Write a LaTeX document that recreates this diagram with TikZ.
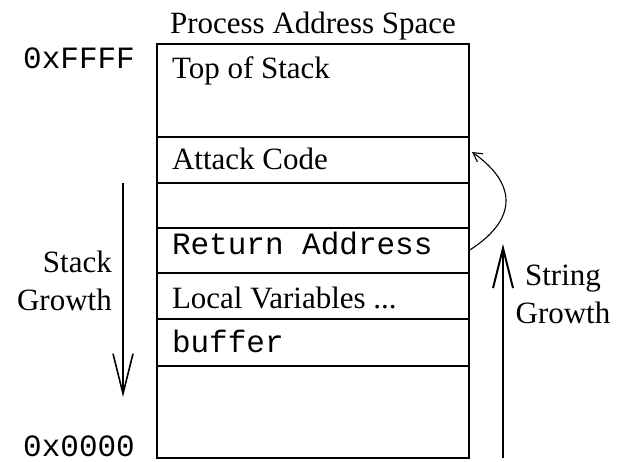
\documentclass[tikz,border=0pt]{standalone}
\usepackage{fontspec}
\setmainfont{Liberation Serif}
\setmonofont{Liberation Mono}
\usetikzlibrary{arrows.meta}
\usetikzlibrary{positioning}
\tikzset{>={Straight Barb[length=40pt,width=20pt]}}
\tikzstyle{cell}=[draw, line width=1.3pt, outer sep=0pt, minimum width=312pt, text width=282pt, inner xsep=15pt, inner ysep=0pt, align=flush left, anchor=north west]

\begin{document}
\begin{tikzpicture}[x=1pt, y=1pt, every node/.style={font=\fontsize{31}{38}\selectfont}]
        \useasboundingbox (0,0) rectangle (621,461);

        % Stack frames
        \node[cell, text height=35pt, text depth=58pt] (top) at (157,417) {Top of Stack};
        \node[cell, below=0pt of top, text height=33pt, text depth=13pt] (attack) {Attack Code};
        \node[cell, below=0pt of attack, text height=45pt, text depth=0pt] (gap) {};
        \node[cell, below=0pt of gap, text height=27pt, text depth=18pt] (ret) {\ttfamily Return Address};
        \node[cell, below=0pt of ret, text height=35pt, text depth=11pt] (local) {Local Variables ...};
        \node[cell, below=0pt of local, text height=33pt, text depth=14pt] (buffer) {\ttfamily buffer};
        \node[cell, below=0pt of buffer, text height=92pt, text depth=0pt] (bottom) {};

        \node[above=4pt of top, inner sep=0pt] (title) {Process Address Space};

        % Addresses
        \node at (23,392) [anchor=base west, inner sep=0pt] (high) {\ttfamily 0xFFFF};
        \node at (23,5) [anchor=base west, inner sep=0pt, text depth=0pt] (low) {\ttfamily 0x0000};

        % Growth arrows
        \coordinate (stack_from) at (123,278);
        \coordinate (stack_to) at (123,64);
        \draw [->, line width=1.6pt] (stack_from) to (stack_to);
        \coordinate (string_from) at (503,3);
        \coordinate (string_to) at (503,217);
        \draw [->, line width=2pt] (string_from) to (string_to);

        % Overwritten return address
        \coordinate (hook) at (472,309);
        \draw [-{Straight Barb[length=9pt,width=10pt]}, line width=1.1pt]
          (ret.east) .. controls +(46,29) and +(48,-34) .. (hook);

        % Text
        \node at (112,150) [anchor=base east, align=right, inner sep=0pt] (stack_text) {Stack\\Growth};
        \node at (563,138) [anchor=base, align=center, inner sep=0pt] (string_text) {String\\Growth};
      \end{tikzpicture}
\end{document}
